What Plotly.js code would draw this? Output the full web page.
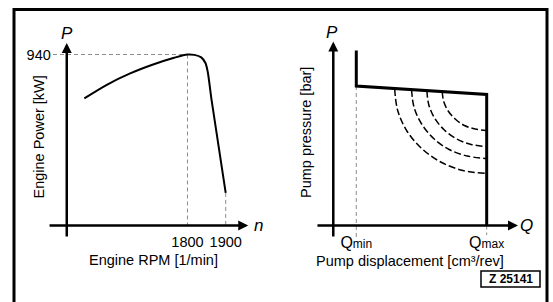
<!DOCTYPE html>
<html>
<head>
<meta charset="utf-8">
<script src="https://cdn.plot.ly/plotly-3.0.1.min.js"></script>
<style>html,body{margin:0;padding:0;background:#fff;}#chart{width:553px;height:302px;}</style>
</head>
<body>
<div id="chart"></div>
<script>
// ---- Engine power curve (left) ----
const rpm   = [1530, 1590, 1650, 1710, 1765, 1800, 1818, 1836, 1847, 1853, 1863, 1900];
const power = [699, 775, 836, 885, 922, 940, 938, 924, 893, 845, 690, 179];
const rpmTicks = [1800, 1900];
const rpmTickText = ['1800', '1900'];
const powerTicks = [940];
const powerTickText = ['940'];
const ratedRpm = 1800, ratedPower = 940, maxRpm = 1900, maxRpmPower = 179;

// ---- Pump characteristic (right) ----
const qMin = 15, qMax = 100;
const limitQ = [15, 15, 100, 100];
const limitP = [350, 279, 262, 0];
const arc1Q = [40, 42.0, 48.0, 57.6, 70.0, 84.5, 100];
const arc1P = [274, 230, 189, 154, 127, 110, 104];
const arc2Q = [51, 52.7, 57.6, 65.4, 75.5, 87.3, 100];
const arc2P = [272, 236, 203, 174, 152, 139, 134];
const arc3Q = [61, 62.3, 66.2, 72.4, 80.5, 89.9, 100];
const arc3P = [270, 241, 214, 191, 173, 162, 158];
const arc4Q = [71, 72, 74.9, 79.5, 85.5, 92.5, 100];
const arc4P = [268, 248, 229, 213, 200, 193, 190];
const qTicks = [qMin, qMax];
const qTickText = ['Q<span style="font-size:12px">min</span>', 'Q<span style="font-size:12px">max</span>'];

const FONT = 'Liberation Sans, Arial, sans-serif';
const refDash = {color: '#8c8c8c', width: 1, dash: '4px,3px'};
const arcLine = {color: 'black', width: 1.5, dash: '7px,3px'};

const traces = [
  {x: [1448, ratedRpm], y: [ratedPower, ratedPower], mode: 'lines', line: refDash, xaxis: 'x', yaxis: 'y'},
  {x: [ratedRpm, ratedRpm], y: [ratedPower, 0], mode: 'lines', line: refDash, xaxis: 'x', yaxis: 'y'},
  {x: [maxRpm, maxRpm], y: [maxRpmPower, 0], mode: 'lines', line: refDash, xaxis: 'x', yaxis: 'y'},
  {x: rpm, y: power, mode: 'lines', line: {color: 'black', width: 2, shape: 'spline', smoothing: 0.8}, xaxis: 'x', yaxis: 'y'},
  {x: [qMin, qMin], y: [limitP[1], -29], mode: 'lines', line: refDash, xaxis: 'x2', yaxis: 'y2'},
  {x: [qMax, qMax], y: [0, -19], mode: 'lines', line: refDash, xaxis: 'x2', yaxis: 'y2'},
  {x: arc1Q, y: arc1P, mode: 'lines', line: Object.assign({shape: 'spline'}, arcLine), xaxis: 'x2', yaxis: 'y2'},
  {x: arc2Q, y: arc2P, mode: 'lines', line: Object.assign({shape: 'spline'}, arcLine), xaxis: 'x2', yaxis: 'y2'},
  {x: arc3Q, y: arc3P, mode: 'lines', line: Object.assign({shape: 'spline'}, arcLine), xaxis: 'x2', yaxis: 'y2'},
  {x: arc4Q, y: arc4P, mode: 'lines', line: Object.assign({shape: 'spline'}, arcLine), xaxis: 'x2', yaxis: 'y2'},
  {x: limitQ, y: limitP, mode: 'lines', line: {color: 'black', width: 3}, xaxis: 'x2', yaxis: 'y2'}
];

function arrow(xref, yref, x0, y0, x1, y1) {
  return {xref: xref, yref: yref, axref: xref, ayref: yref, x: x1, y: y1, ax: x0, ay: y0,
          text: '', showarrow: true, arrowhead: 2, arrowsize: 0.8, arrowwidth: 2.5, arrowcolor: 'black', standoff: 0, startstandoff: 0};
}
function label(xref, yref, x, y, text, opts) {
  return Object.assign({xref: xref, yref: yref, x: x, y: y, text: text, showarrow: false,
          font: {family: FONT, size: 14.5, color: 'black'}, xanchor: 'center', yanchor: 'middle'}, opts || {});
}

const annotations = [
  arrow('x', 'y', 1484, -69, 1484, 1003),
  arrow('x', 'y', 1435, 0, 1959, 0),
  arrow('x2', 'y2', 0, -25, 0, 368),
  arrow('x2', 'y2', -11.3, 0, 120.4, 0),
  label('x', 'y', 1484, 1058, '<i>P</i>', {font: {family: FONT, size: 17, color: 'black'}}),
  label('x', 'y', 1985, 0, '<i>n</i>', {font: {family: FONT, size: 17, color: 'black'}}),
  label('x2', 'y2', -1, 385, '<i>P</i>', {font: {family: FONT, size: 17, color: 'black'}}),
  label('x2', 'y2', 126, 0, '<i>Q</i>', {font: {family: FONT, size: 17, color: 'black'}}),
  label('paper', 'paper', 153/553, 1 - 260/302, 'Engine RPM [1/min]'),
  label('paper', 'paper', 39/553, 1 - 137.5/302, 'Engine Power [kW]', {textangle: -90}),
  label('paper', 'paper', 410/553, 1 - 261/302, 'Pump displacement [cm³/rev]'),
  label('paper', 'paper', 306/553, 1 - 133/302, 'Pump pressure [bar]', {textangle: -90}),
  label('paper', 'paper', 510.5/553, 1 - 279/302, '<b>Z 25141</b>', {font: {family: FONT, size: 12, color: 'black'}})
];

const shapes = [
  {type: 'rect', xref: 'paper', yref: 'paper', x0: 14/553, x1: 547/553, y0: -0.1, y1: 1 - 9.5/302,
   line: {color: 'black', width: 3}, fillcolor: 'rgba(0,0,0,0)'},
  {type: 'rect', xref: 'paper', yref: 'paper', x0: 481/553, x1: 540/553, y0: 1 - 287/302, y1: 1 - 271/302,
   line: {color: 'black', width: 1.5}, fillcolor: 'white'}
];

const axBase = {showline: false, showgrid: false, zeroline: false, fixedrange: true,
                tickfont: {family: FONT, size: 14.5, color: 'black'}, tickcolor: 'rgba(0,0,0,0)', ticks: 'outside'};

const layout = {
  width: 553, height: 302, margin: {l: 0, r: 0, t: 0, b: 0},
  paper_bgcolor: 'white', plot_bgcolor: 'rgba(0,0,0,0)', showlegend: false,
  font: {family: FONT, size: 14.5, color: 'black'},
  xaxis: Object.assign({}, axBase, {domain: [0.0696, 0.4841], range: [1410, 2010], anchor: 'free', position: 1 - 225.5/302,
          tickvals: rpmTicks, ticktext: rpmTickText, ticklen: 3}),
  yaxis: Object.assign({}, axBase, {domain: [0.1931, 0.9159], range: [-100, 1100], anchor: 'free', position: 66.7/553,
          tickvals: powerTicks, ticktext: powerTickText, ticklen: 13}),
  xaxis2: Object.assign({}, axBase, {domain: [0.5472, 0.9633], range: [-20, 130], anchor: 'free', position: 1 - 225.5/302,
          tickvals: qTicks, ticktext: qTickText, ticklen: 2, tickfont: {family: FONT, size: 16, color: 'black'}}),
  yaxis2: Object.assign({}, axBase, {domain: [0.1705, 0.9156], range: [-50, 400], anchor: 'free', position: 333.3/553,
          showticklabels: false, ticks: ''}),
  annotations: annotations,
  shapes: shapes
};

Plotly.newPlot('chart', traces, layout, {displayModeBar: false, staticPlot: true});
</script>
</body>
</html>
